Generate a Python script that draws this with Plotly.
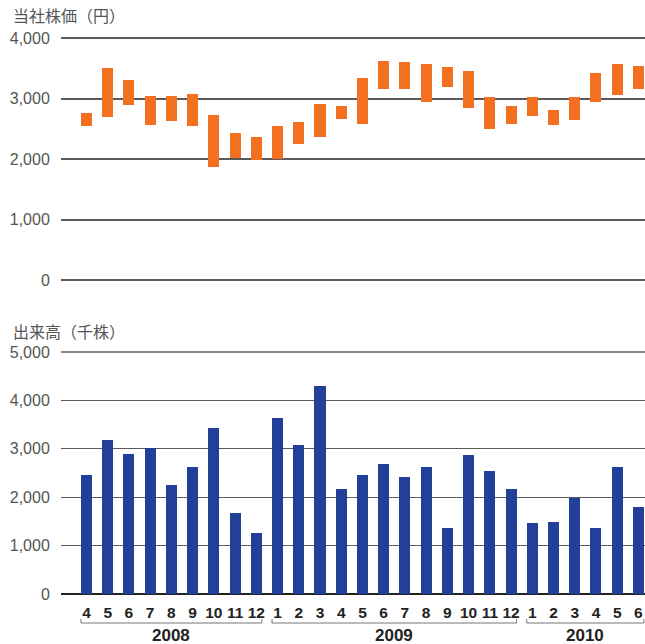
import plotly.graph_objects as go

# ---- data ----
months = ["4", "5", "6", "7", "8", "9", "10", "11", "12",
          "1", "2", "3", "4", "5", "6", "7", "8", "9", "10", "11", "12",
          "1", "2", "3", "4", "5", "6"]
years = ["2008", "2009", "2010"]
year_counts = [9, 12, 6]

price_high = [2765, 3493, 3295, 3046, 3046, 3079, 2732, 2434, 2368,
              2550, 2616, 2914, 2881, 3344, 3609, 3593, 3560, 3510, 3444, 3030, 2881,
              3030, 2815, 3030, 3411, 3560, 3526]
price_low = [2550, 2699, 2897, 2566, 2632, 2550, 1871, 2020, 1987,
             2003, 2252, 2368, 2666, 2583, 3146, 3146, 2947, 3179, 2848, 2500, 2583,
             2715, 2566, 2649, 2947, 3063, 3146]
volume = [2476, 3200, 2910, 3034, 2269, 2641, 3448, 1690, 1276,
          3655, 3097, 4297, 2186, 2476, 2703, 2434, 2641, 1379, 2890, 2559, 2186,
          1483, 1503, 2000, 1379, 2641, 1814]

price_ticks = [0, 1000, 2000, 3000, 4000]
volume_ticks = [0, 1000, 2000, 3000, 4000, 5000]

ORANGE = "#F37021"
BLUE = "#22409A"
GRID = "#5a5a5a"
LABEL = "#555555"

xs = list(range(len(months)))
BW = 0.52

fig = go.Figure()
fig.add_trace(go.Bar(
    x=xs, y=[h - l for h, l in zip(price_high, price_low)], base=price_low,
    marker=dict(color=ORANGE, line=dict(width=0)), width=BW,
    xaxis="x", yaxis="y", hoverinfo="skip"))
fig.add_trace(go.Bar(
    x=xs, y=volume, marker=dict(color=BLUE, line=dict(width=0)), width=BW,
    xaxis="x2", yaxis="y2", hoverinfo="skip"))

xrange = [-1.2, 26.31]
tickfont = dict(family="Liberation Sans, Arial, sans-serif", size=16, color=LABEL)

fig.update_layout(
    width=645, height=644,
    margin=dict(l=61, r=0, t=0, b=0, autoexpand=False),
    paper_bgcolor="white", plot_bgcolor="white",
    showlegend=False, bargap=0,
    xaxis=dict(domain=[0, 1], range=xrange, showgrid=False, zeroline=False,
               showticklabels=False, ticks="", anchor="y", automargin=False),
    yaxis=dict(domain=[0.5624, 0.9438], range=[-30, 4030], anchor="x",
               tickvals=price_ticks, tickformat=",d", automargin=False,
               showgrid=True, gridcolor=GRID, gridwidth=1.5,
               zeroline=True, zerolinecolor=GRID, zerolinewidth=1.5,
               showline=False, ticks="outside", ticklen=7,
               tickcolor="rgba(0,0,0,0)", tickfont=tickfont),
    xaxis2=dict(domain=[0, 1], range=xrange, showgrid=False, zeroline=False,
                anchor="y2", tickvals=xs, ticktext=months, ticks="outside",
                ticklen=2, tickcolor="rgba(0,0,0,0)", automargin=False,
                tickfont=dict(family="Liberation Sans, Arial, sans-serif",
                              size=15.5, color="#222222", weight="bold")),
    yaxis2=dict(domain=[0.0739, 0.4571], range=[-50, 5050], anchor="x2",
                tickvals=volume_ticks, tickformat=",d", automargin=False,
                showgrid=True, gridcolor=GRID, gridwidth=1.3,
                zeroline=True, zerolinecolor="#222222", zerolinewidth=2.2,
                showline=False, ticks="outside", ticklen=7,
                tickcolor="rgba(0,0,0,0)", tickfont=tickfont),
)

# lighter top gridline of the volume chart
fig.add_shape(type="line", xref="x2 domain", yref="y2", x0=0, x1=1,
              y0=volume_ticks[-1], y1=volume_ticks[-1],
              line=dict(color="#8a8a8a", width=2), layer="above")

# axis titles
fig.add_annotation(text="当社株価（円）", xref="paper", yref="paper",
                   x=-61 / 584 + 11 / 584, y=(644 - 15) / 644, xanchor="left",
                   yanchor="middle", showarrow=False,
                   font=dict(family="Noto Sans CJK JP", size=16, color=LABEL))
fig.add_annotation(text="出来高（千株）", xref="paper", yref="paper",
                   x=-61 / 584 + 11 / 584, y=(644 - 331) / 644, xanchor="left",
                   yanchor="middle", showarrow=False,
                   font=dict(family="Noto Sans CJK JP", size=16, color=LABEL))

# year brackets
start = 0
by = (644 - 623) / 644
bt = (644 - 619) / 644
for yr, n in zip(years, year_counts):
    x0 = start - BW / 2
    x1 = start + n - 1 + BW / 2
    fig.add_shape(type="path", xref="x2", yref="paper",
                  path=f"M {x0} {bt} L {x0} {by} L {x1} {by} L {x1} {bt}",
                  line=dict(color="#777777", width=1))
    fig.add_annotation(text=f"<b>{yr}</b>", xref="x2", yref="paper",
                       x=(x0 + x1) / 2, y=(644 - 635) / 644, showarrow=False,
                       xanchor="center", yanchor="middle",
                       font=dict(family="Liberation Sans, Arial, sans-serif",
                                 size=17, color="#222222"))
    start += n

fig.write_html("out.html", config={"displayModeBar": False},
               post_script="document.body.style.margin='0px';document.body.style.padding='0px';")
